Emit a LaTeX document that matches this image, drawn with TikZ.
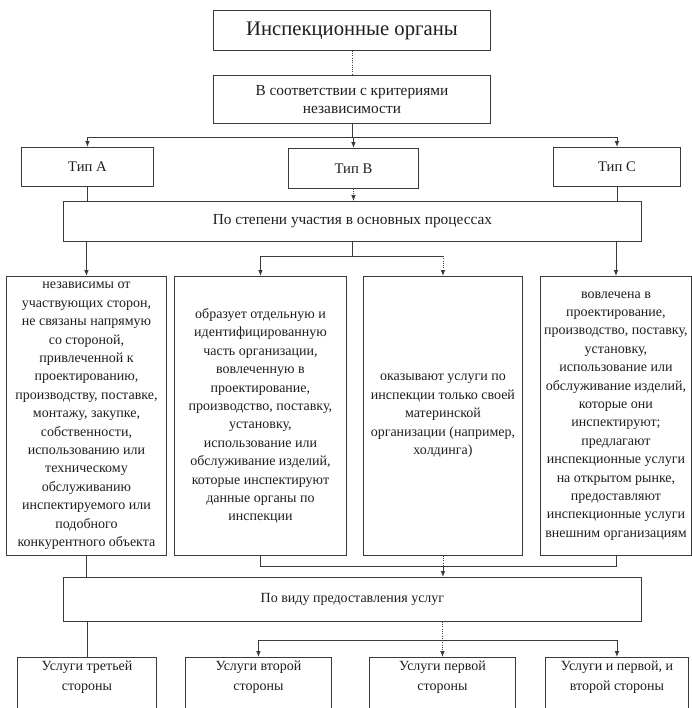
\documentclass[tikz,border=0pt]{standalone}
\usepackage{fontspec}
\setmainfont{Liberation Serif}
\usepackage{xcolor}
\usetikzlibrary{arrows.meta}
\definecolor{linegray}{HTML}{3A3A3A}
\definecolor{textgray}{HTML}{1E1E1E}

\begin{document}
\begin{tikzpicture}[x=0.75pt,y=0.75pt,yscale=-1,xscale=1,
  box/.style={draw=linegray,line width=0.7pt,inner sep=1pt,align=center,text=textgray,anchor=north west},
  link/.style={draw=linegray,line width=0.7pt},
  arr/.style={link,-{Latex[length=4.5pt,width=3.5pt]}},
  small/.style={font=\fontsize{10.5}{13.8}\selectfont}]
\useasboundingbox (0,0) rectangle (692,708);

% upper part
\node [box,minimum width=207.75pt,minimum height=30pt,font=\fontsize{15.5}{18}\selectfont] (organy) at (213,10) {Инспекционные органы};
\node [box,minimum width=207.75pt,minimum height=36pt,font=\fontsize{11.5}{13.5}\selectfont] (kriterii) at (213,75) {В соответствии с критериями\\независимости};

\node [box,minimum width=99pt,minimum height=29.25pt,font=\fontsize{11}{13}\selectfont] (tipA) at (21,147) {Тип А};
\node [box,minimum width=97.5pt,minimum height=30pt,font=\fontsize{11}{13}\selectfont] (tipB) at (288,148) {Тип В};
\node [box,minimum width=95.25pt,minimum height=29.25pt,font=\fontsize{11}{13}\selectfont] (tipC) at (553,147) {Тип С};

\node [box,minimum width=433.5pt,minimum height=30pt,font=\fontsize{11.5}{14}\selectfont] (stepen) at (63,201) {По степени участия в основных процессах};

% columns
\node [box,small,minimum width=120pt,minimum height=209.25pt] (colA) at (6,276) {независимы от\\участвующих сторон,\\не связаны напрямую\\со стороной,\\привлеченной к\\проектированию,\\производству, поставке,\\монтажу, закупке,\\собственности,\\использованию или\\техническому\\обслуживанию\\инспектируемого или\\подобного\\конкурентного объекта};
\node [box,small,minimum width=129pt,minimum height=209.25pt] (colB) at (174,276) {образует отдельную и\\идентифицированную\\часть организации,\\вовлеченную в\\проектирование,\\производство, поставку,\\установку,\\использование или\\обслуживание изделий,\\которые инспектируют\\данные органы по\\инспекции};
\node [box,small,minimum width=119.25pt,minimum height=209.25pt] (colB2) at (363,276) {оказывают услуги по\\инспекции только своей\\материнской\\организации (например,\\холдинга)};
\node [box,small,minimum width=113.25pt,minimum height=209.25pt] (colC) at (540,276) {вовлечена в\\проектирование,\\производство, поставку,\\установку,\\использование или\\обслуживание изделий,\\которые они\\инспектируют;\\предлагают\\инспекционные услуги\\на открытом рынке,\\предоставляют\\инспекционные услуги\\внешним организациям};

% lower part
\node [box,minimum width=433.5pt,minimum height=33pt,font=\fontsize{10.5}{13}\selectfont] (vidu) at (63,577) {По виду предоставления услуг};

\node [box,minimum width=104.25pt,minimum height=47.25pt,font=\fontsize{10.5}{15}\selectfont] (usl3) at (17,657) {Услуги третьей\\стороны\\\strut};
\node [box,minimum width=109.5pt,minimum height=47.25pt,font=\fontsize{10.5}{15}\selectfont] (usl2) at (185,657) {Услуги второй\\стороны\\\strut};
\node [box,minimum width=109.5pt,minimum height=47.25pt,font=\fontsize{10.5}{15}\selectfont] (usl1) at (369,657) {Услуги первой\\стороны\\\strut};
\node [box,minimum width=107.25pt,minimum height=47.25pt,font=\fontsize{10.5}{15}\selectfont] (usl12) at (545,657) {Услуги и первой, и\\второй стороны\\\strut};

% junction rows
\coordinate (r1) at (0,137);
\coordinate (r2) at (0,256);
\coordinate (r3) at (0,566);
\coordinate (r4) at (0,640);

% connectors
\draw [link,densely dotted] (organy) -- (kriterii);
\draw [link] (kriterii) -- (kriterii.south |- r1);
\draw [link] (tipA.north |- r1) -- (tipC.north |- r1);
\draw [arr] (tipA.north |- r1) -- (tipA);
\draw [arr] (tipB.north |- r1) -- (tipB);
\draw [arr] (tipC.north |- r1) -- (tipC);

\draw [link] (tipA) -- (tipA.south |- stepen.north);
\draw [arr,densely dotted] (tipB) -- (tipB.south |- stepen.north);
\draw [link] (tipC) -- (tipC.south |- stepen.north);

\draw [arr] (colA.north |- stepen.south) -- (colA);
\draw [link] (stepen) -- (stepen.south |- r2);
\draw [link] (colB.north |- r2) -- (colB2.north |- r2);
\draw [arr] (colB.north |- r2) -- (colB);
\draw [arr,densely dotted] (colB2.north |- r2) -- (colB2);
\draw [arr] (colC.north |- stepen.south) -- (colC);

\draw [link] (colA) -- (colA.south |- vidu.north);
\draw [link] (colB) -- (colB.south |- r3) -- (colC.south |- r3) -- (colC);
\draw [link,densely dotted] (colB2) -- (colB2.south |- r3);
\draw [arr] (colB2.south |- r3) -- (colB2.south |- vidu.north);

\draw [link] (usl3.north |- vidu.south) -- (usl3);
\draw [link,densely dotted] (usl1.north |- vidu.south) -- (usl1.north |- r4);
\draw [link] (usl2.north |- r4) -- (usl12.north |- r4);
\draw [arr] (usl2.north |- r4) -- (usl2);
\draw [arr,densely dotted] (usl1.north |- r4) -- (usl1);
\draw [arr] (usl12.north |- r4) -- (usl12);
\end{tikzpicture}
\end{document}
